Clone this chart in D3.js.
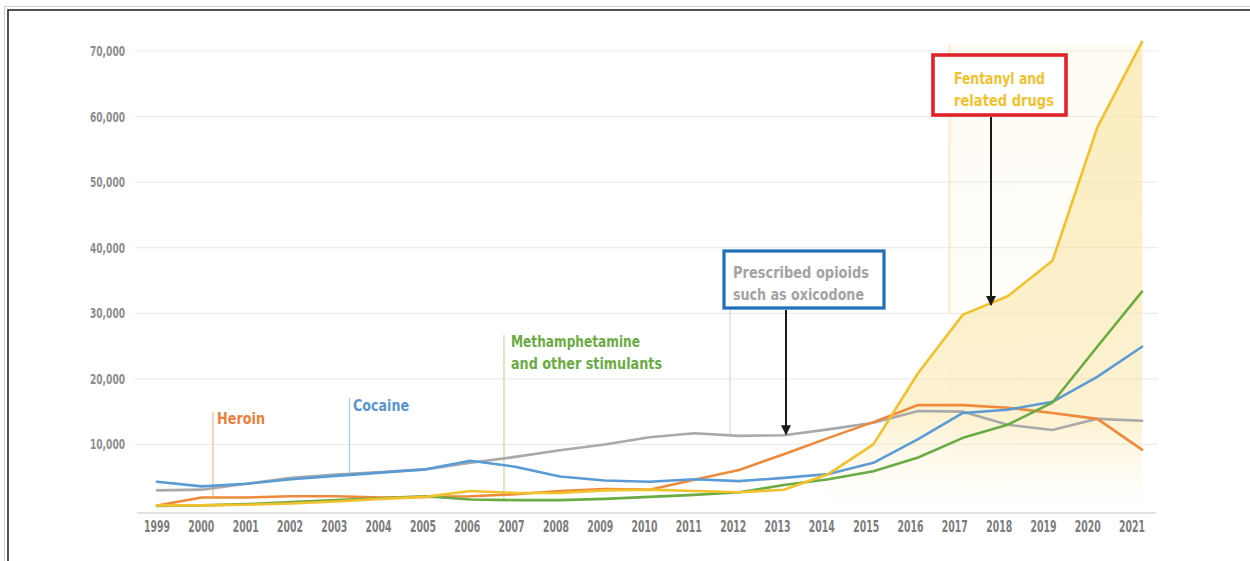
<!DOCTYPE html>
<html>
<head>
<meta charset="utf-8">
<script src="https://cdn.jsdelivr.net/npm/d3@7"></script>
<style>
  html, body { margin: 0; padding: 0; background: #fff; }
  svg { display: block; }
  .lbl { font-family: "DejaVu Sans", "Liberation Sans", sans-serif; font-weight: bold; }
</style>
</head>
<body>
<svg id="chart" width="1250" height="561"></svg>
<script>
const years = [1999,2000,2001,2002,2003,2004,2005,2006,2007,2008,2009,2010,2011,2012,2013,2014,2015,2016,2017,2018,2019,2020,2021];
const yTicks = [10000,20000,30000,40000,50000,60000,70000];

const prescribedOpioids = [3000,3100,4000,4900,5400,5800,6200,7200,8100,9100,10000,11100,11700,11300,11400,12300,13300,15100,15000,13000,12200,13900,13600];
const heroin          = [700,1900,1900,2100,2100,1900,2000,2100,2400,2900,3200,3100,4600,6100,8500,11000,13400,16000,16000,15600,14800,13900,9200];
const cocaine         = [4300,3600,4000,4700,5200,5700,6200,7500,6600,5100,4500,4300,4700,4400,4900,5500,7200,10800,14800,15300,16500,20300,24900];
const methamphetamine = [600,700,900,1200,1500,1800,2100,1600,1500,1500,1700,2000,2300,2700,3800,4700,5900,8000,11000,13000,16400,24900,33300];
const fentanyl        = [700,700,800,1000,1300,1700,2000,2900,2600,2600,3000,3100,2900,2700,3100,5500,10000,20900,29800,32600,38000,58300,71400];

const seriesNames  = ["Prescribed opioids","Heroin","Cocaine","Methamphetamine","Fentanyl"];
const seriesValues = [prescribedOpioids, heroin, cocaine, methamphetamine, fentanyl];
const seriesColors = ["#a9a9a9","#ee8a3a","#5b9bd5","#6aab44","#f2c12e"];

const svg = d3.select("#chart");
const x = d3.scaleLinear().domain([1999, 2021]).range([157, 1142]);
const y = d3.scaleLinear().domain([0, 70000]).range([510, 51]);

// frame
svg.append("rect").attr("x", 4.5).attr("y", 6.5).attr("width", 1260).attr("height", 570)
  .attr("fill", "none").attr("stroke", "#cfcfcf").attr("stroke-width", 1);
svg.append("rect").attr("x", 8).attr("y", 10).attr("width", 1260).attr("height", 570)
  .attr("fill", "none").attr("stroke", "#2a2a2a").attr("stroke-width", 1.6);

// defs
const defs = svg.append("defs");
const grad = defs.append("linearGradient").attr("id", "fentGrad").attr("x1", 0).attr("x2", 0)
  .attr("gradientUnits", "userSpaceOnUse").attr("y1", y(70000)).attr("y2", y(0));
grad.append("stop").attr("offset", "0%").attr("stop-color", "#f8de8c").attr("stop-opacity", 0.5);
grad.append("stop").attr("offset", "80%").attr("stop-color", "#f9e29a").attr("stop-opacity", 0.45);
grad.append("stop").attr("offset", "100%").attr("stop-color", "#fdf3d2").attr("stop-opacity", 0.0);
const grad2 = defs.append("linearGradient").attr("id", "bandGrad").attr("x1", 0).attr("x2", 0)
  .attr("gradientUnits", "userSpaceOnUse").attr("y1", y(70000)).attr("y2", y(0));
grad2.append("stop").attr("offset", "0%").attr("stop-color", "#fbeab5").attr("stop-opacity", 0.18);
grad2.append("stop").attr("offset", "100%").attr("stop-color", "#fdf3d2").attr("stop-opacity", 0.0);
defs.append("marker").attr("id", "arrow").attr("viewBox", "0 0 10 10").attr("refX", 9).attr("refY", 5)
  .attr("markerWidth", 5.5).attr("markerHeight", 5).attr("markerUnits", "strokeWidth").attr("orient", "auto")
  .append("path").attr("d", "M0,0 L10,5 L0,10 z").attr("fill", "#1a1a1a");

// gridlines
svg.append("g").selectAll("line").data(yTicks).join("line")
  .attr("x1", 135).attr("x2", 1158).attr("y1", d => y(d)).attr("y2", d => y(d))
  .attr("stroke", "#ececec").attr("stroke-width", 1.2);
// baseline
svg.append("line").attr("x1", 137).attr("x2", 1156).attr("y1", y(0) + 3).attr("y2", y(0) + 3)
  .attr("stroke", "#d8d8d8").attr("stroke-width", 1.5);

// y labels
svg.append("g").selectAll("text").data(yTicks).join("text")
  .attr("class", "lbl").attr("x", 125).attr("y", d => y(d) + 5).attr("text-anchor", "end")
  .attr("font-size", 14).attr("fill", "#8c8c8c")
  .attr("textLength", 35).attr("lengthAdjust", "spacingAndGlyphs").text(d => d3.format(",")(d));

// x labels
svg.append("g").selectAll("text").data(years).join("text")
  .attr("class", "lbl").attr("x", (d, i) => x(d) - i * 0.45).attr("y", 532).attr("text-anchor", "middle")
  .attr("font-size", 15.5).attr("fill", "#7c7c7c")
  .attr("textLength", 26).attr("lengthAdjust", "spacingAndGlyphs").text(d => d);

// fentanyl band and area
svg.append("rect").attr("x", x(2016.7)).attr("y", y(71000)).attr("width", x(2021) - x(2016.7) + 2)
  .attr("height", y(0) - y(71000)).attr("fill", "url(#bandGrad)");
svg.append("line").attr("x1", x(2016.7)).attr("x2", x(2016.7)).attr("y1", y(71000)).attr("y2", y(30000))
  .attr("stroke", "#fbe6a8").attr("stroke-width", 3).attr("opacity", 0.5);
const fentIdx = years.map((d, i) => i).filter(i => years[i] >= 2014);
svg.append("path")
  .attr("d", d3.area().x(i => x(years[i])).y0(y(0)).y1(i => y(fentanyl[i]))(fentIdx))
  .attr("fill", "url(#fentGrad)");

// annotation leader lines
const leaders = [
  {yr: 2000.25, y1: 412, y2: 497, c: "#f4b48a"},
  {yr: 2003.3,  y1: 398, y2: 476, c: "#a9c8ea"},
  {yr: 2006.75, y1: 335, y2: 499, c: "#bcd9a8"},
  {yr: 2011.8,  y1: 309, y2: 434, c: "#d6d6d6"}
];
svg.append("g").selectAll("line").data(leaders).join("line")
  .attr("x1", d => x(d.yr)).attr("x2", d => x(d.yr)).attr("y1", d => d.y1).attr("y2", d => d.y2)
  .attr("stroke", d => d.c).attr("stroke-width", 1.2);

// series lines
const line = d3.line().x((d, i) => x(years[i])).y(d => y(d));
svg.append("g").selectAll("path").data(seriesValues).join("path")
  .attr("d", d => line(d)).attr("fill", "none")
  .attr("stroke", (d, i) => seriesColors[i]).attr("stroke-width", 2.6)
  .attr("stroke-linejoin", "round").attr("stroke-linecap", "round");

// text labels
function lbl(txt, px, py, color, w) {
  svg.append("text").attr("class", "lbl").attr("x", px).attr("y", py)
    .attr("font-size", 15.5).attr("fill", color)
    .attr("textLength", w).attr("lengthAdjust", "spacingAndGlyphs").text(txt);
}
lbl("Heroin", 217, 424, "#ea7f3b", 48);
lbl("Cocaine", 353, 411, "#5b95cf", 56);
lbl("Methamphetamine", 511, 347, "#6aab44", 129);
lbl("and other stimulants", 511, 369, "#6aab44", 151);

// prescribed box
svg.append("rect").attr("x", 724).attr("y", 251).attr("width", 160).attr("height", 57)
  .attr("fill", "#fff").attr("stroke", "#1f6fb8").attr("stroke-width", 3.2);
lbl("Prescribed opioids", 733, 278, "#a3a3a3", 136);
lbl("such as oxicodone", 733, 300, "#a3a3a3", 131);
svg.append("line").attr("x1", 786).attr("x2", 786).attr("y1", 310).attr("y2", y(11400) - 1)
  .attr("stroke", "#1a1a1a").attr("stroke-width", 2).attr("marker-end", "url(#arrow)");

// fentanyl box
svg.append("rect").attr("x", 933).attr("y", 55).attr("width", 133).attr("height", 60)
  .attr("fill", "#fff").attr("stroke", "#e0222a").attr("stroke-width", 3.6);
lbl("Fentanyl and", 954, 84, "#f2c12e", 91);
lbl("related drugs", 954, 106, "#f2c12e", 100);
svg.append("line").attr("x1", 991).attr("x2", 991).attr("y1", 117).attr("y2", 305)
  .attr("stroke", "#1a1a1a").attr("stroke-width", 2).attr("marker-end", "url(#arrow)");
</script>
</body>
</html>
